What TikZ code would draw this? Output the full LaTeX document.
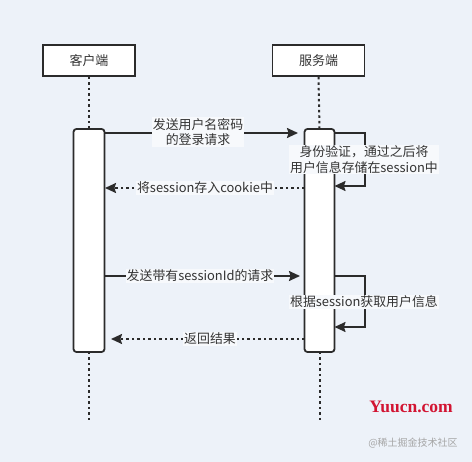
\documentclass[tikz,border=0pt]{standalone}
\usepackage{fontspec}
\setmainfont{Noto Sans CJK SC}
\newfontfamily\wmfont{Liberation Serif}
\usetikzlibrary{arrows.meta}
\definecolor{bg}{HTML}{EDF2F9}
\definecolor{ink}{HTML}{2B2B2B}
\definecolor{txt}{HTML}{333333}
\tikzset{
  actor/.style={draw=ink, line width=1.8pt, fill=white, minimum width=92pt, minimum height=31pt, inner sep=0pt, font=\fontsize{13}{15}\selectfont, text=txt},
  bar/.style={draw=ink, line width=1.8pt, fill=white, rounded corners=3pt},
  life/.style={draw=ink, line width=2pt, dash pattern=on 2.5pt off 3pt},
  msg/.style={draw=ink, line width=1.8pt, -{Stealth[length=11pt,width=10pt,inset=1.5pt]}},
  ret/.style={msg, dash pattern=on 2.5pt off 3pt},
  lbl/.style={fill=white!55!bg, inner sep=1pt, align=center, text=txt, font=\fontsize{12.9}{15.5}\selectfont},
}
\begin{document}
\begin{tikzpicture}[x=1pt,y=-1pt]
\fill[bg] (0,0) rectangle (472,462);
\useasboundingbox (0,0) rectangle (472,462);
% actors
\node[actor] (c) at (89,60.5) {客户端};
\node[actor] (s) at (318.5,60.5) {服务端};
% lifeline anchors
\coordinate (ctop) at (89,129);
\coordinate (cbot) at (89,352);
\coordinate (cend) at (89,421);
\coordinate (stop) at (319.5,129);
\coordinate (sbot) at (319.5,352);
\coordinate (send) at (319.5,421);
\draw[life] (c.south) -- (ctop);
\draw[life] (cbot) -- (cend);
\draw[life] (s.south) -- (stop);
\draw[life] (sbot) -- (send);
% activation bars
\draw[bar] (73.5,129) rectangle (104.5,352);
\draw[bar] (304.5,129) rectangle (334.5,352);
% message points
\coordinate (m1a) at (104.5,133);
\coordinate (m1b) at (298,133);
\coordinate (l1a) at (334.5,133);
\coordinate (l1b) at (334.5,186);
\coordinate (m2a) at (304.5,188);
\coordinate (m2b) at (105,188);
\coordinate (m3a) at (104.5,276);
\coordinate (m3b) at (300,276);
\coordinate (l2a) at (334.5,276);
\coordinate (l2b) at (334.5,327);
\coordinate (m4a) at (304.5,339);
\coordinate (m4b) at (111,339);
% messages
\draw[msg] (m1a) -- (m1b);
\node[lbl] (t1) at (198,132) {发送用户名密码\\的登录请求};
\draw[msg] (l1a) -- (365,133) -- (365,186) -- (l1b);
\node[lbl] (t2) at (364,159.5) {身份验证，通过之后将\\用户信息存储在session中};
\draw[ret] (m2a) -- (m2b);
\node[lbl] (t3) at (205,188) {将session存入cookie中};
\draw[msg] (m3a) -- (m3b);
\node[lbl] (t4) at (200,276) {发送带有sessionId的请求};
\draw[msg] (l2a) -- (365,276) -- (365,327) -- (l2b);
\node[lbl] (t5) at (364,302) {根据session获取用户信息};
\draw[ret] (m4a) -- (m4b);
\node[lbl] (t6) at (210,339) {返回结果};
% watermarks
\node[text={rgb,255:red,210;green,20;blue,50}, font=\wmfont\bfseries\fontsize{17.5}{19}\selectfont, inner sep=0pt] (w1) at (411,407) {Yuucn.com};
\node[text=gray!70, font=\fontsize{10}{12}\selectfont, inner sep=0pt] (w2) at (413,443) {@稀土掘金技术社区};
\end{tikzpicture}
\end{document}
